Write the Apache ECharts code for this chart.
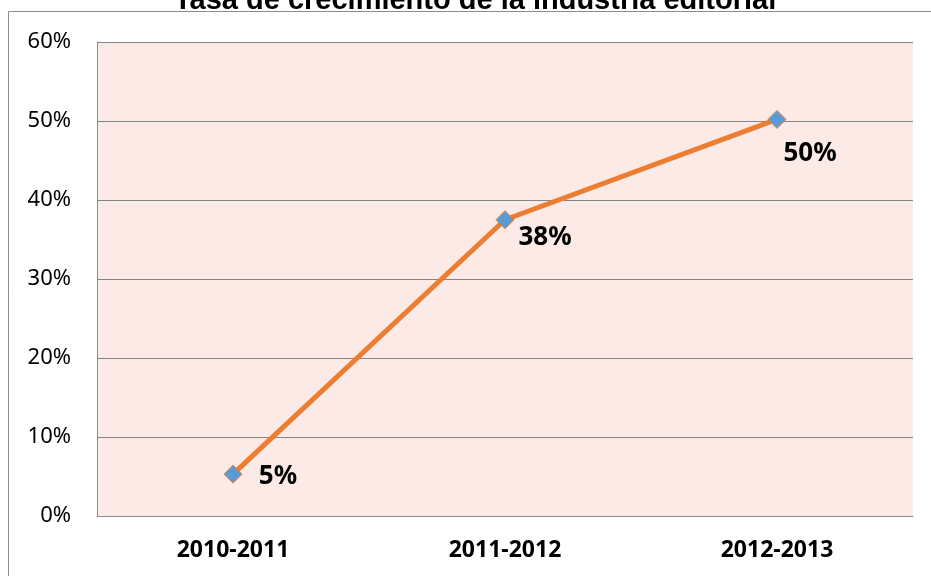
<!DOCTYPE html>
<html>
<head>
<meta charset="utf-8">
<script src="https://cdn.jsdelivr.net/npm/echarts@6/dist/echarts.min.js"></script>
<style>
  html, body { margin: 0; padding: 0; background: #fff; }
  #chart { width: 931px; height: 576px; }
</style>
</head>
<body>
<div id="chart"></div>
<script>
// datos del gráfico
const periodos = ["2010-2011", "2011-2012", "2012-2013"];
const tasas = [0.053, 0.375, 0.502];
const etiquetaOffsets = [[45, 2], [40, 18], [33, 34]];
const yTicks = { min: 0, max: 0.6, interval: 0.1 };

const chart = echarts.init(document.getElementById("chart"));

const option = {
  backgroundColor: "#fff",
  animation: false,
  title: {
    text: "Tasa de crecimiento de la industria editorial",
    left: 174,
    top: -14,
    padding: 0,
    textStyle: {
      fontFamily: "Liberation Sans",
      fontWeight: "bold",
      fontSize: 29,
      color: "#000",
    },
  },
  // marco exterior
  graphic: [
    {
      type: "rect",
      shape: { x: 8.5, y: 11.5, width: 1000, height: 1000 },
      style: { fill: "none", stroke: "#8c8c8c", lineWidth: 1 },
      silent: true,
      z: 0,
    },
  ],
  grid: {
    left: 97,
    right: 18,
    top: 42,
    bottom: 60,
    show: true,
    backgroundColor: "#fbeae5",
    borderWidth: 0,
  },
  xAxis: {
    type: "category",
    data: periodos,
    boundaryGap: true,
    axisLine: { lineStyle: { color: "#8c8c8c", width: 1 } },
    axisTick: { show: false },
    axisLabel: {
      margin: 23,
      fontFamily: "Noto Sans",
      fontWeight: "bold",
      fontSize: 23,
      color: "#000",
    },
  },
  yAxis: {
    type: "value",
    min: yTicks.min,
    max: yTicks.max,
    interval: yTicks.interval,
    axisLine: { show: true, lineStyle: { color: "#8c8c8c", width: 1 } },
    axisTick: { show: false },
    splitLine: { lineStyle: { color: "#858585", width: 1 } },
    axisLabel: {
      margin: 26,
      fontFamily: "Noto Sans",
      fontSize: 22,
      color: "#000",
      formatter: (v) => Math.round(v * 100) + "%",
    },
  },
  series: [
    {
      type: "line",
      data: tasas.map((v, i) => ({
        value: v,
        label: { offset: etiquetaOffsets[i] },
      })),
      lineStyle: { color: "#ed7d31", width: 5 },
      symbol: "diamond",
      symbolSize: 18,
      itemStyle: { color: "#5b9bd5", borderColor: "#ed7d31", borderWidth: 1 },
      label: {
        show: true,
        position: "inside",
        fontFamily: "Noto Sans",
        fontWeight: "bold",
        fontSize: 26,
        color: "#000",
        formatter: (p) => Math.round(p.value * 100) + "%",
      },
      z: 3,
    },
  ],
};

chart.setOption(option);
</script>
</body>
</html>
